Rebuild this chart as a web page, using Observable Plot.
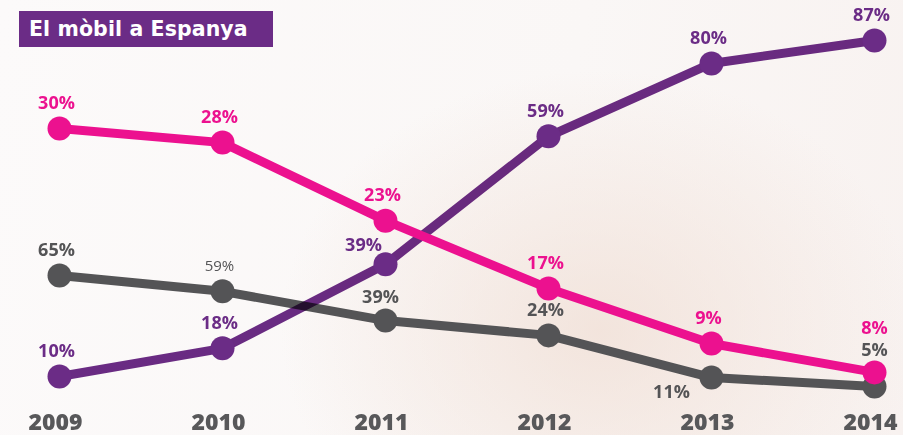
<!DOCTYPE html>
<html>
<head>
<meta charset="utf-8">
<script src="https://cdn.jsdelivr.net/npm/d3@7"></script>
<script src="https://cdn.jsdelivr.net/npm/@observablehq/plot@0.6"></script>
<style>
  html, body { margin: 0; padding: 0; }
  body { width: 903px; height: 435px; overflow: hidden; }
  #wrap {
    position: relative; width: 903px; height: 435px;
    background:
      radial-gradient(ellipse 320px 260px at 600px 330px, rgba(240,222,212,0.75), rgba(240,222,212,0) 100%),
      linear-gradient(100deg, #fcfafa 0%, #faf7f6 60%, #f8f2f0 100%);
  }
  #title {
    position: absolute; left: 19px; top: 11px; width: 254px; height: 36px;
    background: #6b2c86; color: #fff;
    font-family: "DejaVu Sans", sans-serif; font-weight: bold; font-size: 20.5px;
    line-height: 36px; box-sizing: border-box; padding-left: 10px; letter-spacing: 0.1px;
  }
  #chart { position: absolute; left: 0; top: 0; }
</style>
</head>
<body>
<div id="wrap">
  <div id="chart"></div>
  <div id="title">El mòbil a Espanya</div>
</div>
<script>
// Years on the x axis
const years = ["2009", "2010", "2011", "2012", "2013", "2014"];

// Printed percentages for each series
const purpleLabels = [10, 18, 39, 59, 80, 87];
const pinkLabels   = [30, 28, 23, 17, 9, 8];
const grayLabels   = [65, 59, 39, 24, 11, 5];

// Plotted heights of each series (0–100 index; the original infographic is not to scale)
const purpleLevel = [6.5, 14.1, 36.8, 71.4, 91.1, 97.3];
const pinkLevel   = [73.5, 69.7, 48.6, 30.3, 15.4, 7.6];
const grayLevel   = [33.8, 29.5, 21.6, 17.6, 6.2, 3.8];

const colors = { gris: "#545456", lila: "#6b2c86", rosa: "#ec118f" };

function build(key, levels, labels) {
  return years.map((year, i) => ({ series: key, year, level: levels[i], label: labels[i] + "%" }));
}
const gray = build("gris", grayLevel, grayLabels);
const purple = build("lila", purpleLevel, purpleLabels);
const pink = build("rosa", pinkLevel, pinkLabels);

// label placement tweaks (to avoid overlaps, as in the original)
function offset(d) {
  const k = d.series + d.year;
  if (k === "gris2013") return [-40, 15];
  if (k === "gris2014") return [0, -36];
  if (k === "rosa2014") return [0, -44];
  if (k === "lila2011") return [-22, -19];
  if (k === "gris2011") return [-5, -23];
  return [-3, -25];
}
function labelMarks(data, color, extra = {}) {
  const groups = d3.groups(data, d => offset(d).join(","));
  return groups.map(([o, rows]) => {
    const [dx, dy] = o.split(",").map(Number);
    return Plot.text(rows, {
      x: "year", y: "level", text: "label", dx, dy,
      fill: color, fontSize: 18, fontWeight: 700,
      fontFamily: "'Open Sans', sans-serif", ...extra
    });
  });
}
const grayNormal = gray.filter(d => d.year !== "2010");
const grayLight = gray.filter(d => d.year === "2010");

const chart = Plot.plot({
  width: 903,
  height: 435,
  marginTop: 30,
  marginBottom: 35,
  marginLeft: 0,
  marginRight: 0,
  style: { background: "transparent", overflow: "visible" },
  x: { type: "point", domain: years, range: [57, 876], padding: 0 },
  y: { domain: [0, 100], range: [400, 30], axis: null },
  marks: [
    Plot.axisX({
      anchor: "bottom", tickSize: 0, tickPadding: 13, dx: -4,
      fontSize: 23, fontWeight: 800, fill: "#58585a",
      fontFamily: "'Open Sans', sans-serif", label: null
    }),
    Plot.line(gray, { x: "year", y: "level", stroke: colors.gris, strokeWidth: 9 }),
    Plot.dot(gray, { x: "year", y: "level", r: 12, fill: colors.gris }),
    Plot.line(purple, { x: "year", y: "level", stroke: colors.lila, strokeWidth: 9, mixBlendMode: "multiply" }),
    Plot.dot(purple, { x: "year", y: "level", r: 12, fill: colors.lila }),
    Plot.line(pink, { x: "year", y: "level", stroke: colors.rosa, strokeWidth: 9 }),
    Plot.dot(pink, { x: "year", y: "level", r: 12, fill: colors.rosa }),
    ...labelMarks(grayNormal, colors.gris),
    ...labelMarks(grayLight, colors.gris, { fontSize: 15, fontWeight: 500 }),
    ...labelMarks(purple, colors.lila),
    ...labelMarks(pink, colors.rosa)
  ]
});
document.getElementById("chart").appendChild(chart);
</script>
</body>
</html>
